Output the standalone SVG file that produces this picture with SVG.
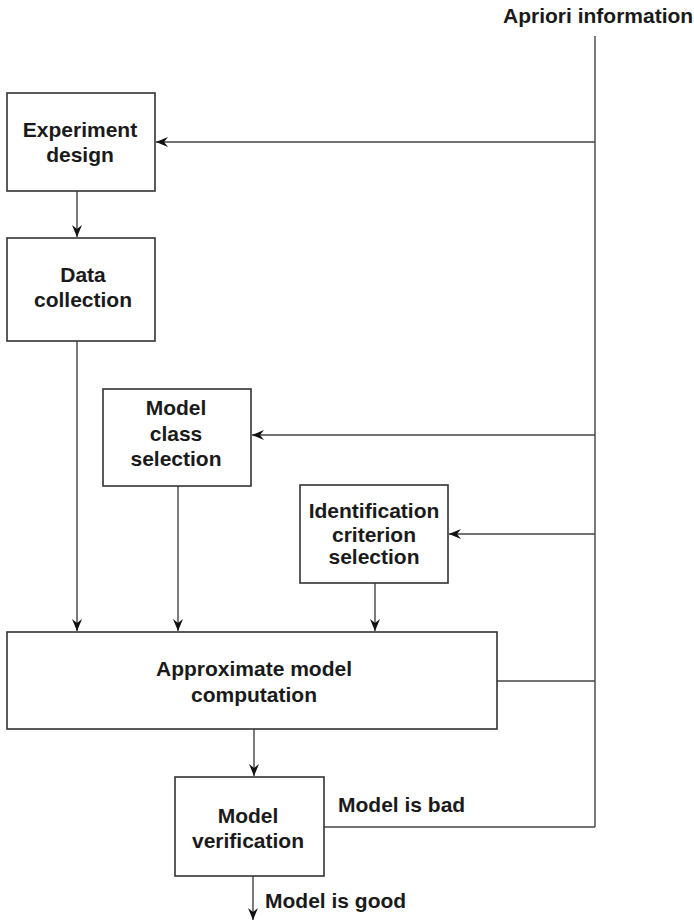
<svg xmlns="http://www.w3.org/2000/svg" width="694" height="922" viewBox="0 0 694 922">
<style>
.box{fill:#fff;stroke:#333;stroke-width:1.6}
.ln{fill:none;stroke:#444;stroke-width:1.4}
text{font-family:"Liberation Sans",Arial,sans-serif;font-weight:bold;font-size:21px;fill:#1a1a1a}
.c{text-anchor:middle}
</style>
<defs>
<marker id="ar" viewBox="0 0 12 10" refX="12" refY="5" markerWidth="12" markerHeight="10" markerUnits="userSpaceOnUse" orient="auto">
<path d="M0,0 L12,5 L0,10 L4,5 z" fill="#111"/>
</marker>
</defs>
<g id="connectors">
<line class="ln" x1="595" y1="36" x2="595" y2="827"/>
<line class="ln" x1="595" y1="142" x2="156" y2="142" marker-end="url(#ar)"/>
<line class="ln" x1="595" y1="435" x2="252" y2="435" marker-end="url(#ar)"/>
<line class="ln" x1="595" y1="534" x2="449" y2="534" marker-end="url(#ar)"/>
<line class="ln" x1="497" y1="681" x2="595" y2="681"/>
<line class="ln" x1="324" y1="827" x2="595" y2="827"/>
<line class="ln" x1="77" y1="191" x2="77" y2="237" marker-end="url(#ar)"/>
<line class="ln" x1="77" y1="341" x2="77" y2="631" marker-end="url(#ar)"/>
<line class="ln" x1="178" y1="486" x2="178" y2="631" marker-end="url(#ar)"/>
<line class="ln" x1="375" y1="583" x2="375" y2="631" marker-end="url(#ar)"/>
<line class="ln" x1="254" y1="729" x2="254" y2="776" marker-end="url(#ar)"/>
<line class="ln" x1="253" y1="876" x2="253" y2="920" marker-end="url(#ar)"/>
</g>
<g id="apriori"><text x="503" y="23">Apriori information</text></g>
<g id="experiment-design">
<rect class="box" x="7" y="93" width="148" height="98"/>
<text x="80" y="137" class="c">Experiment</text>
<text x="80" y="162" class="c">design</text>
</g>
<g id="data-collection">
<rect class="box" x="7" y="238" width="148" height="103"/>
<text x="83" y="282" class="c">Data</text>
<text x="83" y="307" class="c">collection</text>
</g>
<g id="model-class-selection">
<rect class="box" x="103" y="389" width="148" height="97"/>
<text x="176" y="415" class="c">Model</text>
<text x="176" y="441" class="c">class</text>
<text x="176" y="466" class="c">selection</text>
</g>
<g id="identification-criterion-selection">
<rect class="box" x="300" y="485" width="148" height="98"/>
<text x="374" y="518" class="c">Identification</text>
<text x="374" y="542" class="c">criterion</text>
<text x="374" y="564" class="c">selection</text>
</g>
<g id="approximate-model-computation">
<rect class="box" x="7" y="632" width="490" height="97"/>
<text x="254" y="676" class="c">Approximate model</text>
<text x="254" y="702" class="c">computation</text>
</g>
<g id="model-verification">
<rect class="box" x="175" y="777" width="149" height="99"/>
<text x="248" y="823" class="c">Model</text>
<text x="248" y="848" class="c">verification</text>
</g>
<g id="labels">
<text x="338" y="812">Model is bad</text>
<text x="265" y="908">Model is good</text>
</g>
</svg>
